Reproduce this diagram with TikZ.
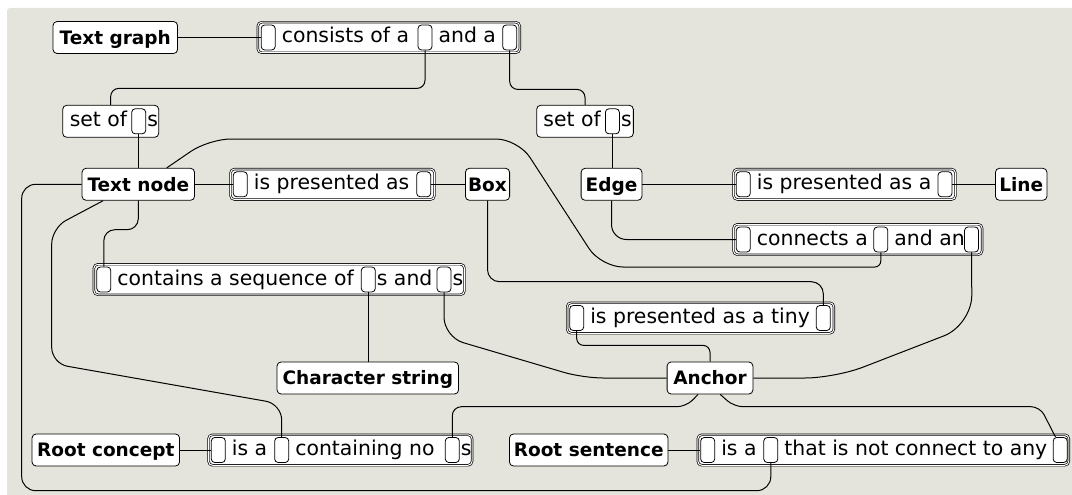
\documentclass[tikz,border=0pt]{standalone}
\usepackage{fontspec}
\setmainfont{DejaVu Sans}
\usetikzlibrary{positioning}
\definecolor{paper}{HTML}{E4E4DC}

\begin{document}
\begin{tikzpicture}[x=1pt,y=-1pt,node distance=6pt,
    concept/.style={draw,fill=white,rounded corners=4pt,line width=.8pt,inner sep=0pt,
        minimum height=32pt,text height=13.4pt,text depth=0pt,font=\bfseries\fontsize{18.5}{22}\selectfont},
    sentence/.style={draw,double=white,double distance=1pt,line width=.7pt,fill=white,
        rounded corners=4pt,inner sep=0pt,minimum height=30.5pt},
    frame/.style={draw,fill=white,rounded corners=4pt,line width=.8pt,inner sep=0pt,minimum height=32pt},
    slot/.style={draw,fill=white,rounded corners=3.5pt,line width=.8pt,inner sep=0pt,
        minimum width=14pt,minimum height=25pt},
    word/.style={inner sep=0pt,text height=11pt,text depth=0pt,font=\fontsize{20.4}{24}\selectfont},
    link/.style={line width=1pt,rounded corners=12pt}]

    % background
    \useasboundingbox (0,0) rectangle (1072,495);
    \fill[paper,rounded corners=3pt] (7,8) rectangle (1090,510);

    % concepts
    \node[concept,minimum width=124.5pt] (tg) at (115.3,37.5) {Text graph};
    \node[concept,minimum width=112.5pt] (tn) at (138.3,184.3) {Text node};
    \node[concept,minimum width=44.2pt] (box) at (487.5,184.3) {Box};
    \node[concept,minimum width=60.8pt] (edge) at (611.5,184.3) {Edge};
    \node[concept,minimum width=51.5pt] (line) at (1021.2,184.3) {Line};
    \node[concept,minimum width=181.5pt] (chars) at (367.8,378) {Character string};
    \node[concept,minimum width=85.8pt] (anch) at (710,378) {Anchor};
    \node[concept,minimum width=147.5pt] (rc) at (105.8,450) {Root concept};
    \node[concept,minimum width=158.5pt] (rs) at (588.7,450) {Root sentence};

    % consists of a [] and a []
    \node[sentence,minimum width=262pt] (cons) at (388.8,37.5) {};
    \node[slot] (c1) at (268.2,37.5) {};
    \node[word,right=of c1] (cw1) {consists of a};
    \node[slot] (c2) at (425,37.5) {};
    \node[word,right=of c2] (cw2) {and a};
    \node[slot] (c3) at (509.7,37.5) {};

    % set of []s
    \node[frame,minimum width=96pt] (setl) at (110.7,121.3) {};
    \node[slot] (sl) at (138.7,121.3) {};
    \node[word,left=4pt of sl] (sw1) {set of};
    \node[word,right=1pt of sl] (sw2) {s};
    \node[frame,minimum width=96.7pt] (setr) at (585,121.3) {};
    \node[slot] (sr) at (612.4,121.3) {};
    \node[word,left=4pt of sr] (rw1) {set of};
    \node[word,right=1pt of sr] (rw2) {s};

    % is presented as
    \node[sentence,minimum width=204pt] (pres) at (332.5,184.3) {};
    \node[slot] (p1) at (240.3,184.3) {};
    \node[word,right=of p1] (pw1) {is presented as};
    \node[slot] (p2) at (423.7,184.3) {};
    \node[sentence,minimum width=222pt] (presa) at (844.5,184.3) {};
    \node[slot] (a1) at (743.3,184.3) {};
    \node[word,right=of a1] (aw1) {is presented as a};
    \node[slot] (a2) at (945,184.3) {};

    % connects a [] and an []
    \node[sentence,minimum width=248.6pt] (conn) at (857.8,239.5) {};
    \node[slot] (n1) at (743.3,239.5) {};
    \node[word,right=of n1] (nw1) {connects a};
    \node[slot] (n2) at (880.8,239.5) {};
    \node[word,right=of n2] (nw2) {and an};
    \node[slot] (n3) at (971.5,239.5) {};

    % contains a sequence
    \node[sentence,minimum width=370.6pt] (cont) at (279.2,279.5) {};
    \node[slot] (k1) at (103.8,279.5) {};
    \node[word,right=of k1] (kw1) {contains a sequence of};
    \node[slot] (k2) at (368.3,279.5) {};
    \node[word,right=1pt of k2] (kw2) {s and};
    \node[slot] (k3) at (444,279.5) {};
    \node[word,right=1pt of k3] (kw3) {s};

    % is presented as a tiny
    \node[sentence,minimum width=266.6pt] (tiny) at (700.5,318) {};
    \node[slot] (t1) at (576.7,318) {};
    \node[word,right=of t1] (tw1) {is presented as a tiny};
    \node[slot] (t2) at (823.3,318) {};

    % root rules
    \node[sentence,minimum width=263.6pt] (isa) at (340.3,450) {};
    \node[slot] (i1) at (218.3,450) {};
    \node[word,right=of i1] (iw1) {is a};
    \node[slot] (i2) at (281.7,450) {};
    \node[word,right=of i2] (iw2) {containing no};
    \node[slot] (i3) at (452.3,450) {};
    \node[word,right=1pt of i3] (iw3) {s};
    \node[sentence,minimum width=371pt] (nconn) at (883.3,450) {};
    \node[slot] (x1) at (707.7,450) {};
    \node[word,right=of x1] (xw1) {is a};
    \node[slot] (x2) at (770.8,450) {};
    \node[word,right=of x2] (xw2) {that is not connect to any};
    \node[slot] (x3) at (1060.2,450) {};

    % links
    \draw[link] (tg.east) -- (c1.west);
    \draw[link,rounded corners=8pt] (c2.south) -- ++(0,38) -| (setl.north);
    \draw[link,rounded corners=8pt] (c3.south) -- ++(0,39) -| (setr.north);
    \draw[link] (sl.south) -- (sl.south |- tn.north);
    \draw[link] (sr.south) -- (sr.south |- edge.north);
    \draw[link] (tn.east) -- (p1.west);
    \draw[link] (p2.east) -- (box.west);
    \draw[link] (edge.east) -- (a1.west);
    \draw[link] (a2.east) -- (line.west);
    \draw[link,rounded corners=15pt] (edge.south) |- (n1.west);
    \draw[link,rounded corners=22pt] (tn.30) -- (209,139) -- (518,139) -- (601,267) [rounded corners=6pt] -| (n2.south);
    \draw[link] (box.south) -- ++(0,81) -| (t2.north);
    \draw[link,rounded corners=14pt] (tn.west) -| (21.7,490.7) -| (x2.south);
    \draw[link,rounded corners=16pt] (tn.205) -- (51.7,228) -- (51.7,363.5) -- (281.7,404) -- (i2.north);
    \draw[link,rounded corners=11pt] (tn.south) -- ++(0,29) -| (k1.north);
    \draw[link] (k2.south) -- (k2.south |- chars.north);
    \draw[link,rounded corners=20pt] (k3.south) -- (444,337) -- (583,378) -- (anch.west);
    \draw[link,rounded corners=7pt] (t1.south) -- ++(0,14.5) -| (anch.north);
    \draw[link,rounded corners=30pt] (n3.south) -- (972,325) -- (835,378) -- (anch.east);
    \draw[link,rounded corners=9pt] (anch.-126) -- (686,406.7) -| (i3.north);
    \draw[link,rounded corners=9pt] (anch.-58) -- (734,406.7) -- (1040,406.7) -- (x3.110);
    \draw[link] (rc.east) -- (i1.west);
    \draw[link] (rs.east) -- (x1.west);
\end{tikzpicture}
\end{document}
